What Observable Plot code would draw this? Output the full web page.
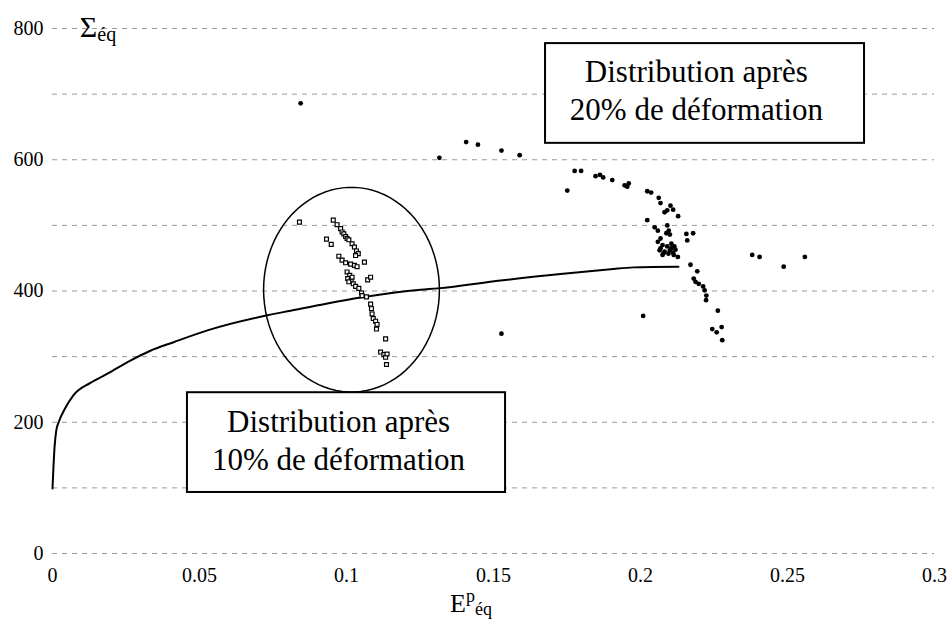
<!DOCTYPE html>
<html><head><meta charset="utf-8">
<script src="https://cdn.jsdelivr.net/npm/d3@7"></script>
<script src="https://cdn.jsdelivr.net/npm/@observablehq/plot@0.6"></script>
<style>body{margin:0;background:#fff}</style>
</head><body><div id="chart"></div>
<script>
// ---- data ----
const curveX = [0, 0.0007, 0.0013, 0.0021, 0.0044, 0.0071, 0.0129, 0.0187, 0.0265, 0.0333, 0.0412, 0.0527, 0.0731, 0.0810, 0.0935, 0.1048, 0.1252, 0.1310, 0.1524, 0.1728, 0.1898, 0.1976, 0.2129];
const curveY = [99, 162, 188, 200, 222, 241, 260, 274, 294, 309, 322, 340, 363, 370, 381, 390, 402, 404, 416, 426, 433, 436, 437];

const dist10X = [0.0840,0.0955,0.0968,0.0980,0.0985,0.0991,0.0997,0.1002,0.1008,0.1019,0.1027,0.1034,0.1040,0.1031,0.0932,0.0948,0.0974,0.0985,0.0997,0.1014,0.1027,0.1036,0.1061,0.1002,0.1011,0.1004,0.1016,0.1019,0.1008,0.1023,0.1031,0.1042,0.1051,0.1053,0.1072,0.1082,0.1068,0.1082,0.1085,0.1087,0.1091,0.1099,0.1104,0.1102,0.1133,0.1116,0.1127,0.1133,0.1138,0.1136];
const dist10Y = [505,508,501,495,490,487,483,480,478,472,467,461,457,454,479,471,453,447,443,441,439,437,444,429,424,419,416,421,414,411,407,404,397,393,417,421,391,380,373,365,358,354,349,342,327,307,303,299,304,288];

const dist20X = [0.0844,0.1316,0.1407,0.1447,0.1527,0.1589,0.1527,0.1751,0.1776,0.1798,0.1847,0.1862,0.1873,0.1904,0.1946,0.1955,0.1960,0.2023,0.2036,0.2062,0.2068,0.2102,0.2111,0.2082,0.2091,0.2128,0.2023,0.2048,0.2059,0.2091,0.2096,0.2100,0.2088,0.2156,0.2179,0.2159,0.2059,0.2068,0.2068,0.2082,0.2091,0.2100,0.2111,0.2075,0.2105,0.2079,0.2119,0.2127,0.2113,0.2065,0.2075,0.2095,0.2105,0.2115,0.2170,0.2193,0.2181,0.2187,0.2198,0.2213,0.2218,0.2224,0.2223,0.2009,0.2263,0.2244,0.2259,0.2276,0.2278,0.2380,0.2405,0.2487,0.2559];
const dist20Y = [686,603,627,623,614,607,335,553,583,583,575,577,573,569,561,559,564,552,550,542,534,530,524,520,523,514,508,497,492,500,492,486,488,487,488,477,475,480,465,460,468,462,458,470,472,458,463,452,455,462,455,457,465,468,440,430,419,414,411,407,401,393,386,362,370,342,337,345,325,455,452,437,452];

const xTicks = [0, 0.05, 0.1, 0.15, 0.2, 0.25, 0.3];
const xTickLabels = ["0", "0.05", "0.1", "0.15", "0.2", "0.25", "0.3"];
const yTicks = [0, 200, 400, 600, 800];
const yTickLabels = ["0", "200", "400", "600", "800"];
const yGrid = [0, 100, 200, 300, 400, 500, 600, 700, 800];
const box10Lines = ["Distribution après", "10% de déformation"];
const box20Lines = ["Distribution après", "20% de déformation"];

// ---- annotation layout (data units) ----
const boxes = [
  {x1: 0.0459, x2: 0.1541, y1: 93, y2: 245, tx: 0.0973, ty: [200, 143], lines: box10Lines},
  {x1: 0.1677, x2: 0.2762, y1: 625, y2: 777, tx: 0.2190, ty: [733, 675], lines: box20Lines}
];
const ell = {cx: 0.1017, cy: 402, rx: 0.0299, ry: 156};

// ---- build tables ----
const curve = curveX.map((x, i) => ({x, y: curveY[i]}));
const d10 = dist10X.map((x, i) => ({x, y: dist10Y[i]}));
const d20 = dist20X.map((x, i) => ({x, y: dist20Y[i]}));
const ellPts = d3.range(0, 361, 4).map(a => ({
  x: ell.cx + ell.rx * Math.cos(a * Math.PI / 180),
  y: ell.cy + ell.ry * Math.sin(a * Math.PI / 180)
}));
const boxText = boxes.flatMap(b => b.lines.map((t, i) => ({x: b.tx, y: b.ty[i], t})));
const xLab = new Map(xTicks.map((d, i) => [d, xTickLabels[i]]));
const yLab = new Map(yTicks.map((d, i) => [d, yTickLabels[i]]));

const FONT = "Liberation Serif, DejaVu Serif, serif";

const plot = Plot.plot({
  width: 947,
  height: 623,
  marginLeft: 52,
  marginRight: 13,
  marginTop: 28,
  marginBottom: 70,
  style: {fontFamily: FONT, color: "black", background: "white"},
  x: {domain: [0, 0.3]},
  y: {domain: [0, 800]},
  marks: [
    Plot.ruleY(yGrid, {stroke: "#999", strokeWidth: 1, strokeDasharray: "5,5"}),
    Plot.axisX(xTicks, {tickSize: 0, tickPadding: 14, fontSize: 20, fontFamily: FONT, tickFormat: d => xLab.get(d), label: null}),
    Plot.axisY(yTicks, {tickSize: 0, tickPadding: 9, fontSize: 20, fontFamily: FONT, tickFormat: d => yLab.get(d), label: null}),
    Plot.line(curve, {x: "x", y: "y", stroke: "black", strokeWidth: 2, curve: "monotone-x"}),
    Plot.rect(boxes, {x1: "x1", x2: "x2", y1: "y1", y2: "y2", fill: "white", stroke: "black", strokeWidth: 2}),
    Plot.line(ellPts, {x: "x", y: "y", stroke: "black", strokeWidth: 1.5}),
    Plot.dot(d10, {x: "x", y: "y", symbol: "square", r: 2.2, fill: "white", stroke: "black", strokeWidth: 1.2}),
    Plot.dot(d20, {x: "x", y: "y", r: 2.4, fill: "black", stroke: "none"}),
    Plot.text(boxText, {x: "x", y: "y", text: "t", fontSize: 31, fontFamily: FONT, fill: "black"})
  ]
});

const svg = d3.select(plot);
// y-axis title: Σ with subscript éq
const yt = svg.append("text").attr("x", 98).attr("y", 37)
  .attr("font-family", FONT).attr("fill", "black");
yt.append("tspan").attr("font-size", 30).text("Σ");
yt.append("tspan").attr("font-size", 20).attr("dy", 4).text("éq");
// x-axis title: E with superscript p and subscript éq
const xt = svg.append("text").attr("x", 471).attr("y", 612)
  .attr("font-family", FONT).attr("fill", "black");
xt.append("tspan").attr("font-size", 26).text("E");
xt.append("tspan").attr("font-size", 18).attr("dy", -10).text("p");
xt.append("tspan").attr("font-size", 18).attr("dy", 13).text("éq");

document.getElementById("chart").append(plot);
</script>
</body></html>
